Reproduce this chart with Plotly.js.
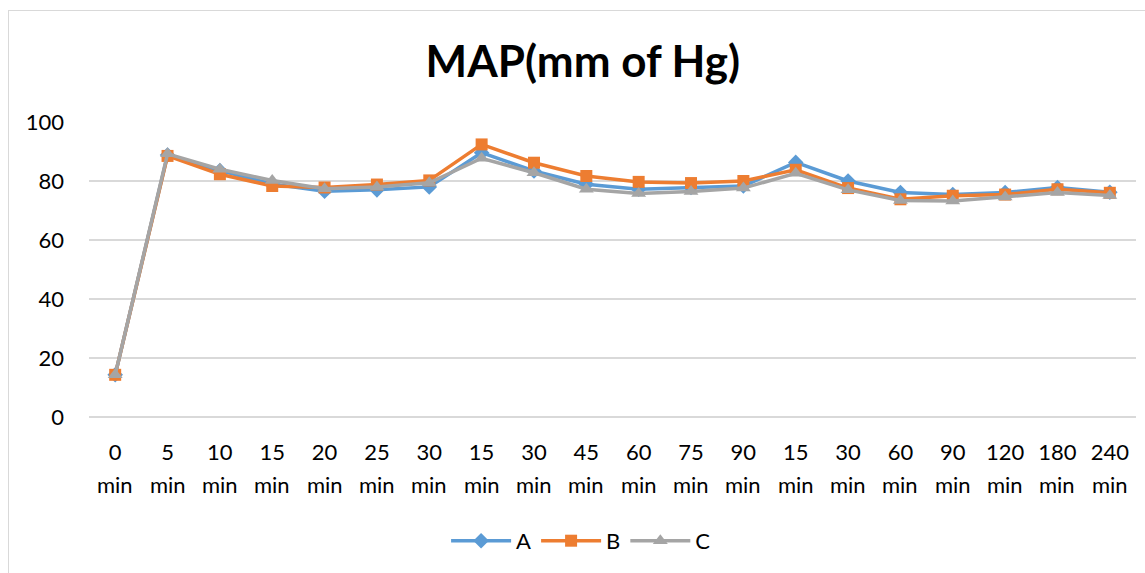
<!DOCTYPE html>
<html>
<head>
<meta charset="utf-8">
<script src="https://cdn.plot.ly/plotly-3.0.1.min.js"></script>
<style>
  html, body { margin: 0; padding: 0; background: #fff; }
  #chart { position: absolute; left: 0; top: 0; width: 1145px; height: 573px; }
  #frame { position: absolute; left: 8px; top: 10px; width: 1137px; height: 563px;
           border-left: 1px solid #d9d9d9; border-top: 1px solid #d9d9d9; pointer-events: none; }
</style>
</head>
<body>
<div id="chart"></div>
<div id="frame"></div>
<script>
const tickLabels = ["0 min","5 min","10 min","15 min","20 min","25 min","30 min",
  "15 min","30 min","45 min","60 min","75 min","90 min",
  "15 min","30 min","60 min","90 min","120 min","180 min","240 min"];
const seriesA = [14.3, 88.8, 83.5, 79.0, 76.5, 77.0, 78.0, 89.6, 83.4, 78.9, 77.2, 77.8, 78.3, 86.3, 80.0, 76.1, 75.4, 76.1, 77.8, 76.2];
const seriesB = [14.3, 88.5, 82.3, 78.3, 77.8, 78.8, 80.2, 92.4, 86.2, 81.7, 79.7, 79.3, 80.0, 83.8, 77.6, 73.8, 75.0, 75.4, 77.2, 76.0];
const seriesC = [14.3, 89.2, 84.0, 80.2, 77.4, 78.0, 79.4, 87.7, 82.8, 77.2, 75.8, 76.4, 77.6, 82.6, 77.0, 73.4, 73.2, 74.6, 76.1, 75.1];
const names = ["A", "B", "C"];
const xs = tickLabels.map((_, i) => i);
const tickNums = tickLabels.map(s => s.split(" ")[0]);
const tickUnits = tickLabels.map(s => s.split(" ")[1]);

const colors = ["#5b9bd5", "#ed7d31", "#a5a5a5"];
const symbols = ["diamond", "square", "triangle-up"];
const sizes = [12, 12, 13];
const data = [seriesA, seriesB, seriesC].map((ys, k) => ({
  x: xs, y: ys, name: names[k], type: "scatter", mode: "lines+markers",
  line: { color: colors[k], width: 3.5 },
  marker: { color: colors[k], symbol: symbols[k], size: sizes[k] }
}));

const font = "Lato, 'Open Sans', 'Liberation Sans', sans-serif";
const annotations = tickUnits.map((u, i) => ({
  x: i, xref: "x", y: -0.229, yref: "paper", yanchor: "middle", xanchor: "center",
  text: u, showarrow: false, font: { family: font, size: 22, color: "#000" }
}));
const layout = {
  width: 1145, height: 573,
  margin: { l: 89, r: 9, t: 122, b: 156 },
  paper_bgcolor: "rgba(0,0,0,0)", plot_bgcolor: "#fff",
  font: { family: font, size: 22, color: "#000" },
  title: { text: "<b>MAP(mm of Hg)</b>", font: { family: font, size: 44, color: "#000" },
           x: 0.509, xanchor: "center", y: 0.892, yanchor: "middle" },
  xaxis: { range: [-0.5, 19.5], tickvals: xs, ticktext: tickNums, showgrid: false,
           zeroline: false, showline: false, ticks: "", ticklabelstandoff: 20,
           tickfont: { size: 22 }, fixedrange: true },
  yaxis: { range: [0, 100], dtick: 20, showgrid: true, gridcolor: "#d9d9d9", gridwidth: 1.5,
           zeroline: true, zerolinecolor: "#d9d9d9", zerolinewidth: 1.5, showline: false,
           ticks: "", ticklabelstandoff: 24, tickfont: { size: 22 }, fixedrange: true },
  annotations: annotations,
  showlegend: true,
  legend: { orientation: "h", x: 0.47, xanchor: "center", y: -0.42, yanchor: "middle",
            font: { size: 22 }, itemwidth: 60, traceorder: "normal" }
};
Plotly.newPlot("chart", data, layout, { displayModeBar: false, staticPlot: true });
</script>
</body>
</html>
